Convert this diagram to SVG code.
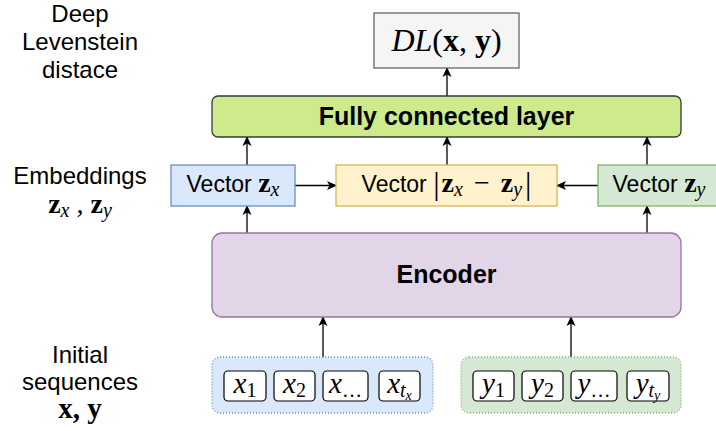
<svg xmlns="http://www.w3.org/2000/svg" width="716" height="431" viewBox="0 0 716 431">
<defs>
<marker id="arr" viewBox="0 0 10 10" refX="9" refY="5" markerWidth="10" markerHeight="10" markerUnits="userSpaceOnUse" orient="auto">
<path d="M0,0.5 L10,5 L0,9.5 L2.5,5 Z" fill="#000"/>
</marker>
<style>
.lbl{font-family:"Liberation Sans",Arial,sans-serif;font-size:24px;fill:#000;text-anchor:middle}
.v{font-size:23px}
.b{font-weight:bold;font-size:25px}
.big{font-size:32px}
.m{font-family:"Liberation Serif","Times New Roman",serif;font-style:italic}
.mb{font-family:"Liberation Serif","Times New Roman",serif;font-weight:bold;font-style:normal}
.mr{font-family:"Liberation Serif","Times New Roman",serif;font-style:normal}
.edge{stroke:#000;stroke-width:1.3;fill:none;marker-end:url(#arr)}
.tok{fill:#fff;stroke:#000;stroke-width:1.2}
</style>
</defs>
<rect width="716" height="431" fill="#fff"/>
<g id="labels">
<text class="lbl" x="80" y="22">Deep</text>
<text class="lbl" x="80" y="50">Levenstein</text>
<text class="lbl" x="80" y="78">distace</text>
<text class="lbl" x="80" y="184">Embeddings</text>
<text class="lbl" x="80" y="213"><tspan class="mb" font-size="28">z</tspan><tspan class="m" font-size="20" dy="4">x</tspan><tspan class="mr" font-size="28" dy="-4"> , </tspan><tspan class="mb" font-size="28">z</tspan><tspan class="m" font-size="20" dy="4">y</tspan></text>
<text class="lbl" x="80" y="363">Initial</text>
<text class="lbl" x="80" y="390">sequences</text>
<text class="lbl" x="80" y="418"><tspan class="mb" font-size="29">x, y</tspan></text>
</g>
<g id="connectors">
<line class="edge" x1="447" y1="96" x2="447" y2="68"/>
<line class="edge" x1="247" y1="165" x2="247" y2="137"/>
<line class="edge" x1="447" y1="165" x2="447" y2="137"/>
<line class="edge" x1="647" y1="165" x2="647" y2="137"/>
<line class="edge" x1="295" y1="185.5" x2="336" y2="185.5"/>
<line class="edge" x1="598" y1="185.5" x2="557" y2="185.5"/>
<line class="edge" x1="247" y1="233" x2="247" y2="206"/>
<line class="edge" x1="647" y1="233" x2="647" y2="206"/>
<line class="edge" x1="323" y1="357" x2="323" y2="317"/>
<line class="edge" x1="571" y1="357" x2="571" y2="317"/>
</g>
<g id="dl">
<rect x="374" y="13" width="145" height="55" fill="#f5f5f5" stroke="#666666" stroke-width="1.3"/>
<text class="lbl big" x="446.5" y="51"><tspan class="m">DL</tspan><tspan class="mr">(</tspan><tspan class="mb">x</tspan><tspan class="mr">, </tspan><tspan class="mb">y</tspan><tspan class="mr">)</tspan></text>
</g>
<g id="fc">
<rect x="212" y="96" width="469" height="41" rx="6" fill="#cdeb8b" stroke="#36393d" stroke-width="1.3"/>
<text class="lbl b" x="446.5" y="125">Fully connected layer</text>
</g>
<g id="vzx">
<rect x="171" y="165" width="124" height="41" fill="#dae8fc" stroke="#6c8ebf" stroke-width="1.3"/>
<text class="lbl v" x="233" y="192">Vector <tspan class="mb" font-size="28">z</tspan><tspan class="m" font-size="20" dy="4">x</tspan></text>
</g>
<g id="vdiff">
<rect x="336" y="165" width="221" height="41" fill="#fff2cc" stroke="#d6b656" stroke-width="1.3"/>
<text class="lbl v" x="446.5" y="192">Vector <tspan class="mr" font-size="32" dy="2">|</tspan><tspan class="mb" font-size="28" dy="-2" dx="2">z</tspan><tspan class="m" font-size="20" dy="4">x</tspan><tspan class="mr" font-size="28" dy="-4" dx="4"> − </tspan><tspan class="mb" font-size="28" dx="4">z</tspan><tspan class="m" font-size="20" dy="4">y</tspan><tspan class="mr" font-size="32" dy="-2" dx="3">|</tspan></text>
</g>
<g id="vzy">
<rect x="598" y="165" width="124" height="41" fill="#d5e8d4" stroke="#82b366" stroke-width="1.3"/>
<text class="lbl v" x="659" y="192">Vector <tspan class="mb" font-size="28">z</tspan><tspan class="m" font-size="20" dy="4">y</tspan></text>
</g>
<g id="encoder">
<rect x="212" y="233" width="469" height="84" rx="10" fill="#e1d5e7" stroke="#9673a6" stroke-width="1.3"/>
<text class="lbl b" x="446.5" y="283">Encoder</text>
</g>
<g id="seqx">
<rect x="212" y="357" width="221" height="56" rx="8" fill="#dae8fc" stroke="#6c8ebf" stroke-width="1.3" stroke-dasharray="1 2"/>
<rect class="tok" x="224" y="371" width="42" height="30" rx="4"/>
<rect class="tok" x="274" y="371" width="41" height="30" rx="4"/>
<rect class="tok" x="323" y="371" width="45" height="30" rx="4"/>
<rect class="tok" x="379" y="371" width="41" height="30" rx="4"/>
<text class="lbl" x="245" y="393"><tspan class="m" font-size="29">x</tspan><tspan class="mr" font-size="20" dy="4">1</tspan></text>
<text class="lbl" x="294.5" y="393"><tspan class="m" font-size="29">x</tspan><tspan class="mr" font-size="20" dy="4">2</tspan></text>
<text class="lbl" x="345.5" y="393"><tspan class="m" font-size="29">x</tspan><tspan class="mr" font-size="20" dy="4">…</tspan></text>
<text class="lbl" x="399.5" y="393"><tspan class="m" font-size="29">x</tspan><tspan class="m" font-size="20" dy="4">t</tspan><tspan class="m" font-size="14" dy="3">x</tspan></text>
</g>
<g id="seqy">
<rect x="461" y="357" width="220" height="56" rx="8" fill="#d5e8d4" stroke="#82b366" stroke-width="1.3" stroke-dasharray="1 2"/>
<rect class="tok" x="473" y="371" width="41" height="30" rx="4"/>
<rect class="tok" x="522" y="371" width="41" height="30" rx="4"/>
<rect class="tok" x="571" y="371" width="46" height="30" rx="4"/>
<rect class="tok" x="627" y="371" width="42" height="30" rx="4"/>
<text class="lbl" x="493.5" y="393"><tspan class="m" font-size="29">y</tspan><tspan class="mr" font-size="20" dy="4">1</tspan></text>
<text class="lbl" x="542.5" y="393"><tspan class="m" font-size="29">y</tspan><tspan class="mr" font-size="20" dy="4">2</tspan></text>
<text class="lbl" x="594" y="393"><tspan class="m" font-size="29">y</tspan><tspan class="mr" font-size="20" dy="4">…</tspan></text>
<text class="lbl" x="648" y="393"><tspan class="m" font-size="29">y</tspan><tspan class="m" font-size="20" dy="4">t</tspan><tspan class="m" font-size="14" dy="3">y</tspan></text>
</g>
</svg>
